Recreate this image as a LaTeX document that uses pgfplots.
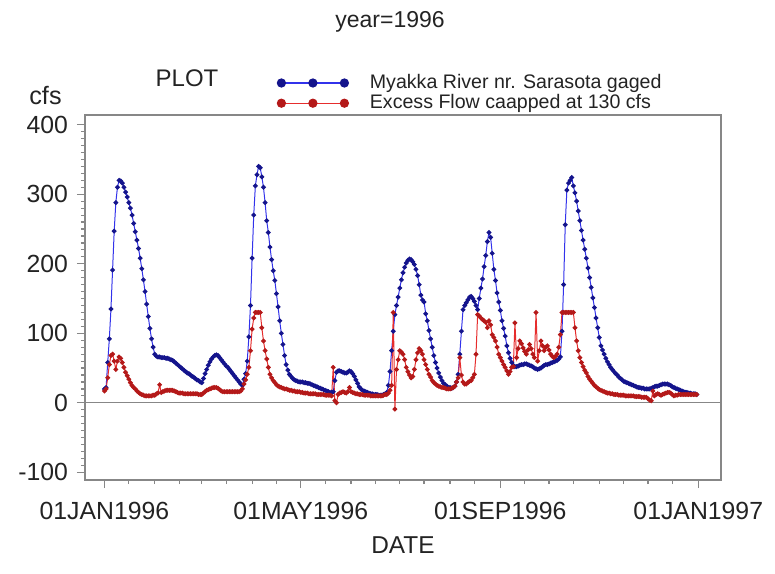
\documentclass[border=0pt]{standalone}
\usepackage{fontspec}
\setmainfont{Liberation Sans}
\usepackage{pgfplots}
\usepackage{pgfplotstable}
\pgfplotsset{compat=1.18}
\definecolor{bline}{RGB}{50,50,235}
\definecolor{bmark}{RGB}{20,20,140}
\definecolor{rline}{RGB}{230,45,45}
\definecolor{rmark}{RGB}{180,25,25}
\definecolor{frame}{RGB}{135,135,135}
\definecolor{txt}{RGB}{35,35,35}
\pgfplotstableread{
d b r
0 20 17
1 22 20
2 58 36
3 92 55
4 135 68
5 191 70
6 247 60
7 288 48
8 310 60
9 320 66
10 319 64
11 316 58
12 310 51
13 303 44
14 296 39
15 288 34
16 280 29
17 270 25
18 258 22
19 246 20
20 234 17
21 222 15
22 208 13
23 193 12
24 177 11
25 160 10
26 142 10
27 124 10
28 107 10
29 92 10
30 80 11
31 70 11
32 67 13
33 66 14
34 66 26
35 65 15
36 65 16
37 65 17
38 64 18
39 64 18
40 63 18
41 62 18
42 61 18
43 59 17
44 57 16
45 55 15
46 53 14
47 51 14
48 49 14
49 47 13
50 45 13
51 43 13
52 42 13
53 40 13
54 38 13
55 37 13
56 35 13
57 33 13
58 32 12
59 30 12
60 29 12
61 35 14
62 42 16
63 48 18
64 54 19
65 59 20
66 63 21
67 66 22
68 68 22
69 69 22
70 68 21
71 65 19
72 62 17
73 59 16
74 56 16
75 53 16
76 51 16
77 48 16
78 45 16
79 42 16
80 39 16
81 36 16
82 33 16
83 30 16
84 27 17
85 25 20
86 34 27
87 42 33
88 60 41
89 95 51
90 140 75
91 208 106
92 270 122
93 312 130
94 328 130
95 340 130
96 338 130
97 325 108
98 310 89
99 288 75
100 262 63
101 245 51
102 224 41
103 206 36
104 190 32
105 176 29
106 157 26
107 138 24
108 118 23
109 100 22
110 84 21
111 68 20
112 55 20
113 47 19
114 41 18
115 38 18
116 35 17
117 33 17
118 32 16
119 31 16
120 30 16
121 30 15
122 30 15
123 29 14
124 29 14
125 28 14
126 28 13
127 27 13
128 26 13
129 25 13
130 24 13
131 23 12
132 22 12
133 21 12
134 20 12
135 19 12
136 18 11
137 17 11
138 16 11
139 15 11
140 15 10
141 16 51
142 32 3
143 44 0
144 46 12
145 46 14
146 45 15
147 44 16
148 43 15
149 43 14
150 44 16
151 46 22
152 45 16
153 42 15
154 38 14
155 33 13
156 28 13
157 23 12
158 20 12
159 18 12
160 17 11
161 16 11
162 15 11
163 14 11
164 13 10
165 13 10
166 12 10
167 12 10
168 12 10
169 11 10
170 11 10
171 11 10
172 12 11
173 13 12
174 15 12
175 25 14
176 45 18
177 75 25
178 103 130
179 127 -9
180 140 48
181 152 62
182 165 75
183 177 73
184 187 70
185 195 62
186 201 51
187 205 45
188 207 40
189 206 36
190 203 38
191 199 48
192 192 62
193 183 72
194 170 78
195 155 75
196 148 70
197 145 62
198 128 55
199 118 48
200 104 41
201 92 37
202 80 32
203 68 29
204 58 27
205 50 25
206 43 24
207 37 23
208 32 22
209 28 22
210 26 21
211 24 20
212 22 20
213 22 20
214 21 21
215 22 22
216 24 24
217 30 30
218 41 36
219 70 65
220 103 40
221 134 30
222 140 27
223 144 27
224 148 29
225 152 31
226 153 32
227 150 36
228 146 41
229 140 70
230 134 127
231 150 125
232 165 122
233 178 120
234 196 118
235 212 116
236 232 108
237 245 118
238 238 112
239 215 98
240 192 94
241 176 89
242 158 80
243 145 70
244 133 65
245 118 60
246 107 55
247 96 51
248 82 46
249 72 41
250 64 45
251 58 51
252 54 52
253 52 115
254 52 65
255 53 78
256 54 89
257 55 85
258 55 79
259 56 74
260 56 70
261 55 76
262 54 84
263 53 78
264 52 70
265 50 65
266 49 130
267 48 60
268 49 75
269 50 89
270 52 82
271 54 75
272 55 80
273 55 82
274 56 76
275 57 70
276 58 67
277 59 65
278 60 67
279 61 70
280 63 80
281 66 98
282 103 130
283 170 130
284 256 130
285 306 130
286 316 130
287 320 130
288 324 130
289 312 130
290 302 108
291 290 89
292 276 75
293 262 65
294 248 58
295 234 52
296 221 47
297 208 43
298 194 38
299 180 34
300 166 31
301 151 28
302 137 25
303 122 23
304 108 21
305 94 19
306 82 18
307 76 17
308 70 16
309 64 15
310 59 14
311 55 14
312 51 13
313 48 13
314 45 12
315 42 12
316 40 12
317 37 11
318 35 11
319 33 11
320 31 11
321 30 10
322 29 10
323 28 10
324 27 10
325 26 10
326 25 10
327 24 9
328 23 9
329 22 9
330 22 9
331 21 8
332 21 8
333 20 8
334 20 8
335 20 6
336 20 4
337 21 3
338 22 17
339 23 10
340 24 12
341 24 13
342 25 12
343 26 11
344 27 12
345 27 13
346 27 14
347 27 15
348 26 15
349 25 14
350 23 12
351 22 10
352 21 11
353 20 11
354 19 12
355 18 12
356 17 12
357 16 12
358 15 12
359 15 12
360 14 12
361 14 12
362 13 12
363 13 12
364 13 12
365 12 12
}\flowdata
\begin{document}
\begin{tikzpicture}
\useasboundingbox (-42.5pt,-46.5pt) rectangle (345pt,240pt);
\begin{axis}[
  at={(0,0)}, anchor=south west,
  scale only axis, width=318pt, height=182.5pt,
  xmin=-12, xmax=380, ymin=-111, ymax=414,
  axis line style={frame, line width=0.7pt},
  tick align=outside, tick pos=left,
  major tick length=4pt, minor tick length=2pt,
  every tick/.style={frame, line width=0.6pt},
  xtick={0,121,244,366},
  xticklabels={01JAN1996,01MAY1996,01SEP1996,01JAN1997},
  minor xtick={15,31,46,60,75,91,106,136,152,167,182,197,213,228,259,274,289,305,320,335,350},
  ytick={-100,0,100,200,300,400},
  minor y tick num=9,
  /pgf/number format/assume math mode=true,
  ticklabel style={font=\fontsize{12.4}{14}\selectfont, text=txt},
  xticklabel style={yshift=-3.5pt},
  yticklabel style={xshift=-1pt},
  xlabel={DATE},
  xlabel style={font=\fontsize{12.2}{14}\selectfont, text=txt, at={(axis description cs:0.5,0)}, anchor=base, yshift=-36.5pt},
  legend style={at={(96pt,204.5pt)}, anchor=north west, draw=none, fill=none, inner sep=0pt,
    font=\fontsize{9.8}{11}\selectfont, text=txt, row sep=-1.5pt,
    nodes={inner sep=1.5pt}},
  legend cell align=left,
  legend image code/.code={\draw[#1, mark size=2pt, mark repeat=1, line width=0.6pt] plot coordinates {(0pt,0pt) (15.75pt,0pt) (31.5pt,0pt)};
    \path (42.5pt,0pt);},
  clip=true,
]
\draw[frame, line width=0.6pt] (axis cs:-12,0) -- (axis cs:380,0);
\addplot[color=bline, line width=0.5pt, mark=*, mark size=0.95pt, mark options={draw=bmark, fill=bmark}] table[x=d, y=b] {\flowdata};
\addlegendentry{Myakka River nr. Sarasota gaged}
\addplot[color=rline, line width=0.5pt, mark=*, mark size=0.95pt, mark options={draw=rmark, fill=rmark}] table[x=d, y=r] {\flowdata};
\addlegendentry{Excess Flow caapped at 130 cfs}
\end{axis}
\node[anchor=base, font=\fontsize{11.5}{13}\selectfont, text=txt] at (152.5pt,226pt) {year=1996};
\node[anchor=base, font=\fontsize{12}{14}\selectfont, text=txt] at (51pt,196.75pt) {PLOT};
\node[anchor=base, font=\fontsize{12.6}{14}\selectfont, text=txt] at (-19.75pt,187.5pt) {cfs};
\end{tikzpicture}
\end{document}
